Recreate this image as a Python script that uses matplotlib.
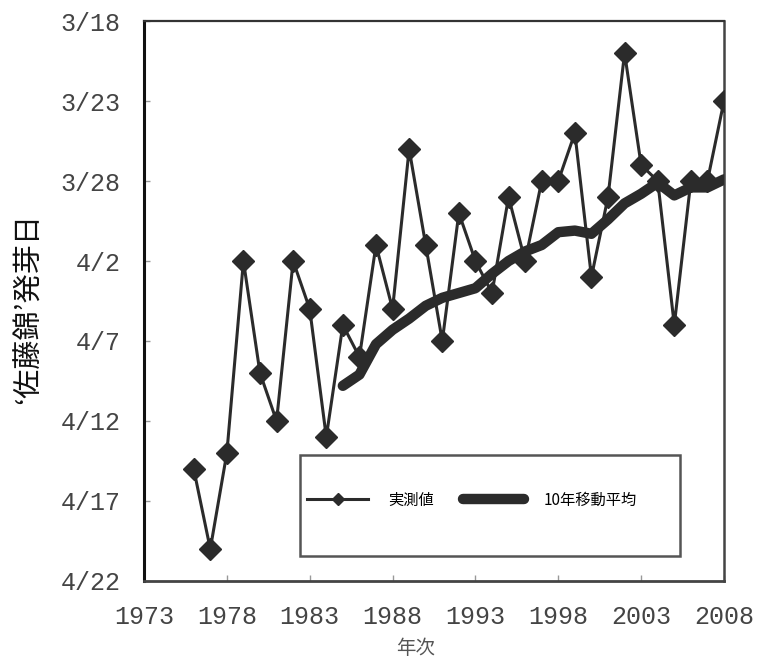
import datetime
import matplotlib
matplotlib.use('Agg')
import matplotlib.pyplot as plt
from matplotlib.patches import Rectangle

# sprouting date of 'Sato Nishiki' cherry
years = list(range(1976, 2009))
sprout = ['4/15', '4/20', '4/14', '4/2', '4/9', '4/12', '4/2', '4/5', '4/13', '4/6',
          '4/8', '4/1', '4/5', '3/26', '4/1', '4/7', '3/30', '4/2', '4/4', '3/29',
          '4/2', '3/28', '3/28', '3/25', '4/3', '3/29', '3/20', '3/27', '3/28', '4/6',
          '3/28', '3/28', '3/23']

# 10 year moving average (day of year), starts 1985
ma_years = list(range(1985, 2009))
ma_doy = [99.8, 99.1, 97.2, 96.3, 95.6, 94.8, 94.3, 94.0, 93.7, 92.8, 92.0, 91.4,
          91.0, 90.2, 90.1, 90.3, 89.4, 88.4, 87.8, 87.1, 87.9, 87.4, 87.4, 86.9]

ytick_labels = ['3/18', '3/23', '3/28', '4/2', '4/7', '4/12', '4/17', '4/22']
xticks = [1973, 1978, 1983, 1988, 1993, 1998, 2003, 2008]


def doy(s):
    # month/day -> day of year (non leap year)
    m, d = s.split('/')
    return datetime.date(2001, int(m), int(d)).timetuple().tm_yday


sprout_doy = [doy(s) for s in sprout]
ytick_pos = [doy(s) for s in ytick_labels]

fig = plt.figure(figsize=(7.58, 6.61), dpi=100)
ax = fig.add_axes([144/758, 1-581/661, 580/758, 560/661])

ax.plot(years, sprout_doy, color='#2b2b2b', lw=2.2, marker='D', ms=11.5,
        label='実測値', zorder=3)
ax.plot(ma_years, ma_doy, color='#2b2b2b', lw=7.5, solid_capstyle='round',
        solid_joinstyle='round', label='10年移動平均', zorder=4)

ax.set_xlim(1973, 2008)
ax.set_ylim(ytick_pos[-1], ytick_pos[0])  # earlier dates on top

ax.set_xticks(xticks, [str(x) for x in xticks], fontfamily='Liberation Mono',
              fontsize=18, color='#444')
ax.set_yticks(ytick_pos, ytick_labels, fontfamily='Liberation Mono',
              fontsize=18, color='#444')
ax.tick_params(axis='x', direction='in', length=4, width=1, color='#999', pad=17)
ax.tick_params(axis='y', direction='in', length=4, width=1, color='#999', pad=17)

ax.spines['left'].set_color('#111')
ax.spines['left'].set_linewidth(2.2)
ax.spines['bottom'].set_color('#444')
ax.spines['bottom'].set_linewidth(2)
ax.spines['top'].set_color('#333')
ax.spines['top'].set_linewidth(1.6)
ax.spines['right'].set_color('#444')
ax.spines['right'].set_linewidth(1.8)

# legend frame drawn by hand, it is much taller than the entries
ax.add_patch(Rectangle((0.269, 0.0446), 0.655, 0.18, transform=ax.transAxes,
                       fill=False, edgecolor='#555', lw=1.8, zorder=5))
ax.legend(loc='center left', bbox_to_anchor=(0.281, 0.1446), ncol=2, frameon=False,
          borderpad=0, borderaxespad=0, handlelength=4.0, handletextpad=1.3,
          columnspacing=1.9, markerscale=0.55,
          prop={'family': 'Noto Sans CJK JP', 'size': 11})

fig.text(29/758, 1-308/661, '‘佐藤錦’発芽日', rotation=90, ha='center', va='center',
         fontsize=21, family='Noto Sans CJK JP', color='#111')
fig.text(416/758, 1-648/661, '年次', ha='center', va='center',
         fontsize=14, family='Noto Sans CJK JP', color='#555')

fig.savefig('out.png', dpi=100)
